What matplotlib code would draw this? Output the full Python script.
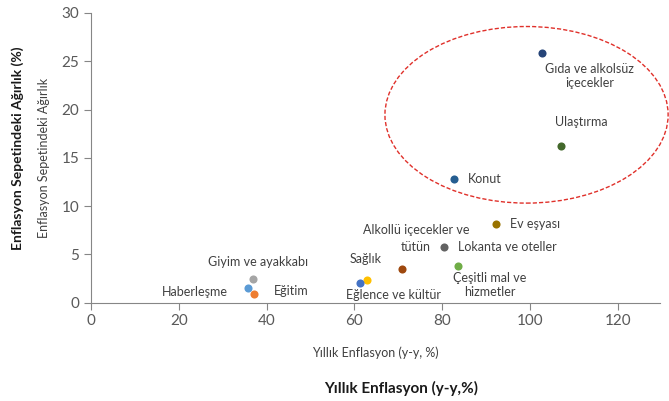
import matplotlib
matplotlib.use("Agg")
import matplotlib.pyplot as plt
from matplotlib.patches import Ellipse

plt.rcParams['font.family'] = ['Lato', 'DejaVu Sans']

categories = ["Gıda ve alkolsüz\niçecekler", "Ulaştırma", "Konut", "Ev eşyası",
              "Lokanta ve oteller", "Çeşitli mal ve\nhizmetler", "Alkollü içecekler ve",
              "Sağlık", "Eğlence ve kültür", "Giyim ve ayakkabı", "Haberleşme", "Eğitim"]
inflation = [102.7, 107.1, 82.7, 92.3, 80.3, 83.5, 70.8, 62.9, 61.3, 36.9, 35.7, 37.2]
weight = [25.85, 16.2, 12.8, 8.1, 5.8, 3.8, 3.5, 2.3, 2.0, 2.4, 1.5, 0.9]
colors = ["#264478", "#43682B", "#255E91", "#997300", "#636363", "#70AD47",
          "#9E480E", "#FFC000", "#4472C4", "#A5A5A5", "#5B9BD5", "#ED7D31"]
# label offsets in pixels (dx, dy) and alignment
offsets = [(48, -23, 'center'), (20, 24, 'center'), (14, 0, 'left'), (14, 0, 'left'),
           (14, 0, 'left'), (32, -19.5, 'center'), (14, 39, 'center'), (-2, 21, 'center'),
           (33, -12, 'center'), (5, 17, 'center'), (-53, -4, 'center'), (37, 3, 'center')]
second_line = "tütün"

fig = plt.figure(figsize=(6.69, 4.01), dpi=100)
ax = fig.add_axes([91/669, 1 - 302.5/401, 569/669, 289.5/401])

for x, y, c in zip(inflation, weight, colors):
    ax.scatter([x], [y], s=34, color=c, zorder=3, linewidths=0)

for lab, x, y, (dx, dy, ha) in zip(categories, inflation, weight, offsets):
    ax.annotate(lab, (x, y), xytext=(dx, dy), textcoords='offset pixels',
                ha=ha, va='center', multialignment='center', fontsize=9,
                color='#404040', annotation_clip=False)
# second line of the Alkollü label, placed separately
ax.annotate(second_line, (inflation[6], weight[6]), xytext=(14, 22), textcoords='offset pixels',
            ha='center', va='center', fontsize=9, color='#404040', annotation_clip=False)

ell = Ellipse((99.2, 19.45), 64.5, 18.3, fill=False, edgecolor='#E0302A',
              linestyle=(0, (3, 1.5)), linewidth=1.0, clip_on=False, zorder=2)
ax.add_patch(ell)

ax.set_xlim(0, 129.6)
ax.set_ylim(0, 30)
ax.set_xticks([0, 20, 40, 60, 80, 100, 120])
ax.set_yticks([0, 5, 10, 15, 20, 25, 30])
for s in ['top', 'right']:
    ax.spines[s].set_visible(False)
for s in ['left', 'bottom']:
    ax.spines[s].set_color('#868686')
    ax.spines[s].set_linewidth(0.8)
ax.tick_params(direction='out', length=5, width=0.8, color='#868686',
               labelcolor='#595959', labelsize=11)

ax.set_xlabel("Yıllık Enflasyon (y-y, %)", fontsize=9, color='#404040', labelpad=13)
ax.set_ylabel("Enflasyon Sepetindeki Ağırlık", fontsize=9, color='#404040', labelpad=8)

fig.text(401/669, 1 - 388/401, "Yıllık Enflasyon (y-y,%)", fontsize=11,
         fontweight='bold', ha='center', va='center', color='#1a1a1a')
fig.text(18/669, 1 - 148/401, "Enflasyon Sepetindeki Ağırlık (%)", fontsize=10,
         fontweight='bold', ha='center', va='center', rotation=90, color='#1a1a1a')

fig.savefig("out.png", dpi=100)
